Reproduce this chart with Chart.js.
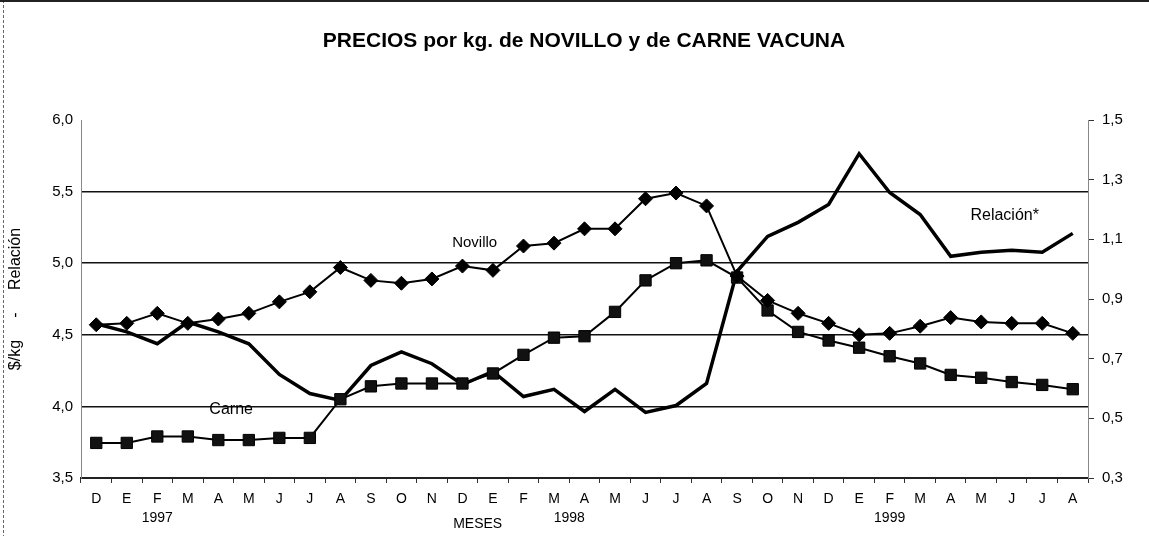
<!DOCTYPE html>
<html lang="es">
<head>
    <meta charset="UTF-8" />
    <title>Precios por kg. de novillo y de carne vacuna</title>
    <style>
        html, body {
            margin: 0;
            padding: 0;
            background: #fff;
        }
        #chart-container {
            width: 1149px;
            height: 536px;
        }
    </style>
    <script src="https://cdn.jsdelivr.net/npm/chart.js"></script>
</head>
<body>
<div id="chart-container">
    <canvas id="preciosChart" width="1149" height="536"></canvas>
</div>

<script>
  // meses dic-1996 .. ago-1999
  const meses = ["D", "E", "F", "M", "A", "M", "J", "J", "A", "S", "O", "N",
                 "D", "E", "F", "M", "A", "M", "J", "J", "A", "S", "O", "N",
                 "D", "E", "F", "M", "A", "M", "J", "J", "A"];

  // $/kg
  const novillo = [4.57, 4.58, 4.65, 4.58, 4.61, 4.65, 4.73, 4.80, 4.97, 4.88, 4.86, 4.89,
                   4.98, 4.95, 5.12, 5.14, 5.24, 5.24, 5.45, 5.49, 5.40, 4.91, 4.74, 4.65,
                   4.58, 4.50, 4.51, 4.56, 4.62, 4.59, 4.58, 4.58, 4.51];
  const carne = [3.745, 3.745, 3.79, 3.79, 3.765, 3.765, 3.78, 3.78, 4.05, 4.14, 4.16, 4.16,
                 4.16, 4.23, 4.36, 4.48, 4.49, 4.66, 4.88, 5.00, 5.02, 4.90, 4.67, 4.52,
                 4.46, 4.41, 4.35, 4.30, 4.22, 4.20, 4.17, 4.15, 4.12];
  // eje derecho
  const relacion = [0.817, 0.79, 0.75, 0.823, 0.79, 0.75, 0.647, 0.583, 0.56, 0.677, 0.723, 0.683,
                    0.613, 0.657, 0.573, 0.597, 0.523, 0.597, 0.52, 0.543, 0.617, 0.993, 1.11, 1.157,
                    1.217, 1.387, 1.257, 1.183, 1.043, 1.057, 1.063, 1.057, 1.12];

  const ticksIzq = [3.5, 4.0, 4.5, 5.0, 5.5, 6.0];
  const ticksDer = [0.3, 0.5, 0.7, 0.9, 1.1, 1.3, 1.5];

  const anios = ["1997", "1998", "1999"];
  const aniosPos = [2, 15.5, 26];

  const FONT = "'Liberation Sans', Arial, sans-serif";

  function coma(v) {
    return v.toFixed(1).replace(".", ",");
  }

  const textos = {
    id: "textos",
    afterDraw(chart) {
      const c = chart.ctx;
      const x = chart.scales.x;
      const y = chart.scales.y;
      const y1 = chart.scales.y1;
      const area = chart.chartArea;
      c.save();

      // marco del escaneo
      c.strokeStyle = "#666";
      c.lineWidth = 1;
      c.setLineDash([3, 2]);
      c.beginPath();
      c.moveTo(3.5, 0);
      c.lineTo(3.5, 536);
      c.stroke();
      c.setLineDash([]);
      c.strokeStyle = "#222";
      c.lineWidth = 2;
      c.beginPath();
      c.moveTo(0, 1);
      c.lineTo(1149, 1);
      c.stroke();

      c.fillStyle = "#000";
      c.textAlign = "center";
      c.textBaseline = "middle";

      c.font = "bold 21px " + FONT;
      c.fillText("PRECIOS por kg. de NOVILLO y de CARNE VACUNA", 584, 41);

      c.font = "15px " + FONT;
      c.fillText("Novillo", x.getPixelForValue(12.4), y.getPixelForValue(5.14));
      c.font = "16px " + FONT;
      c.fillText("Carne", x.getPixelForValue(4.42), y.getPixelForValue(3.98));
      c.fillText("Relación*", x.getPixelForValue(29.77), y1.getPixelForValue(1.18));

      c.font = "14px " + FONT;
      anios.forEach((a, i) => {
        c.fillText(a, x.getPixelForValue(aniosPos[i]), area.bottom + 40);
      });
      c.fillText("MESES", x.getPixelForValue(12.5), area.bottom + 46);
      c.restore();
    },
  };

  const ctx = document.getElementById("preciosChart").getContext("2d");
  new Chart(ctx, {
    type: "line",
    data: {
      labels: meses,
      datasets: [
        {
          label: "Novillo",
          data: novillo,
          yAxisID: "y",
          borderColor: "#000",
          backgroundColor: "#000",
          borderWidth: 2,
          pointStyle: "rectRot",
          pointRadius: 7,
          pointBorderWidth: 1,
          tension: 0,
        },
        {
          label: "Carne",
          data: carne,
          yAxisID: "y",
          borderColor: "#000",
          backgroundColor: "#111",
          borderWidth: 2,
          pointStyle: "rect",
          pointRadius: 8,
          pointBorderWidth: 1,
          tension: 0,
        },
        {
          label: "Relación*",
          data: relacion,
          yAxisID: "y1",
          borderColor: "#000",
          borderWidth: 3.5,
          pointRadius: 0,
          tension: 0,
        },
      ],
    },
    options: {
      responsive: false,
      animation: false,
      layout: {
        padding: { top: 120, left: 0, right: 0, bottom: 0 },
      },
      scales: {
        x: {
          type: "category",
          offset: true,
          grid: {
            offset: true,
            drawOnChartArea: false,
            drawTicks: true,
            tickLength: 5,
            color: "#333",
          },
          border: { color: "#222", width: 2 },
          ticks: {
            autoSkip: false,
            maxRotation: 0,
            padding: 8,
            color: "#000",
            font: { family: FONT, size: 14 },
          },
          afterFit(scale) {
            scale.height = 58;
          },
        },
        y: {
          position: "left",
          min: 3.5,
          max: 6.0,
          afterBuildTicks(scale) {
            scale.ticks = ticksIzq.map((v) => ({ value: v }));
          },
          ticks: {
            padding: 8,
            color: "#000",
            font: { family: FONT, size: 15 },
            callback: (v) => coma(v),
          },
          grid: {
            drawTicks: false,
            lineWidth: 1.5,
            color: (c) => (c.tick && (c.tick.value === 3.5 || c.tick.value === 6.0) ? "rgba(0,0,0,0)" : "#111"),
          },
          border: { color: "#888", width: 1 },
          title: {
            display: true,
            text: "$/kg     -     Relación",
            color: "#000",
            font: { family: FONT, size: 16 },
            padding: { top: 6, bottom: 0 },
          },
          afterFit(scale) {
            scale.width = 81;
          },
        },
        y1: {
          position: "right",
          min: 0.3,
          max: 1.5,
          afterBuildTicks(scale) {
            scale.ticks = ticksDer.map((v) => ({ value: v }));
          },
          ticks: {
            padding: 8,
            color: "#000",
            font: { family: FONT, size: 15 },
            callback: (v) => coma(v),
          },
          grid: {
            drawOnChartArea: false,
            drawTicks: true,
            tickLength: 6,
            color: "#333",
          },
          border: { color: "#888", width: 1 },
          afterFit(scale) {
            scale.width = 61;
          },
        },
      },
      plugins: {
        legend: { display: false },
        tooltip: { enabled: false },
      },
    },
    plugins: [textos],
  });
</script>

</body>
</html>
